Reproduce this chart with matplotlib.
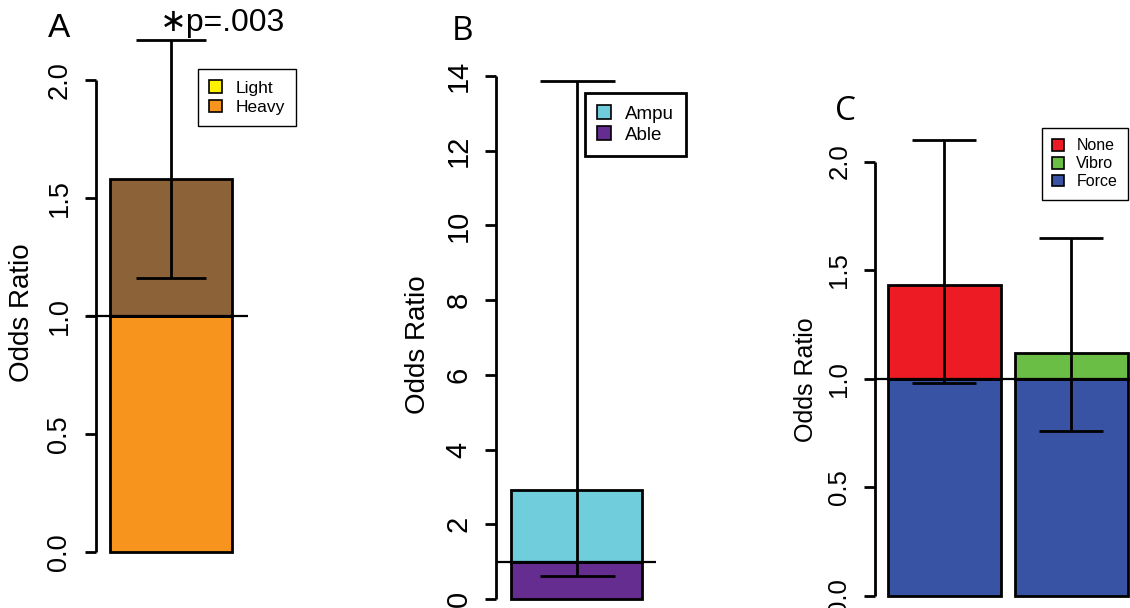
import matplotlib
matplotlib.use("Agg")
import matplotlib.pyplot as plt
from matplotlib.patches import Patch

plt.rcParams['font.family'] = ['Liberation Sans', 'DejaVu Sans']

# ---- data -------------------------------------------------------------
odds_a = [1.58]
lo_a = [1.16]
hi_a = [2.17]
legend_a = ["Light", "Heavy"]
colors_a = ["#FFF200", "#F7941D"]   # legend swatches
top_a = "#8C6239"                   # upper segment of the bar
base_a = "#F7941D"
ticks_a = [0.0, 0.5, 1.0, 1.5, 2.0]
ticklabels_a = ["0.0", "0.5", "1.0", "1.5", "2.0"]

odds_b = [2.92]
lo_b = [0.62]
hi_b = [13.87]
legend_b = ["Ampu", "Able"]
colors_b = ["#6FCDDC", "#662D91"]
ticks_b = [0, 2, 4, 6, 8, 10, 12, 14]
ticklabels_b = ["0", "2", "4", "6", "8", "10", "12", "14"]

odds_c = [1.43, 1.12]
lo_c = [0.98, 0.76]
hi_c = [2.10, 1.65]
legend_c = ["None", "Vibro", "Force"]
colors_c = ["#ED1C24", "#6ABD45", "#3953A4"]
ticks_c = [0.0, 0.5, 1.0, 1.5, 2.0]
ticklabels_c = ["0.0", "0.5", "1.0", "1.5", "2.0"]

baseline = 1.0
p_text = "\u2217p=.003"

# ---- figure -----------------------------------------------------------
W, H = 1130, 608
fig = plt.figure(figsize=(W / 100, H / 100), dpi=100)
LW = 2.0


def px_axes(left, right, top, bottom):
    return fig.add_axes([left / W, 1 - bottom / H, (right - left) / W, (bottom - top) / H])


def style_axes(ax, ticks, labels, fs):
    for s in ["top", "right", "bottom"]:
        ax.spines[s].set_visible(False)
    ax.spines["left"].set_linewidth(LW)
    ax.spines["left"].set_bounds(ticks[0], ticks[-1])
    ax.spines["left"].set_capstyle("butt")
    ax.set_xticks([])
    ax.set_yticks(ticks)
    ax.set_yticklabels(labels, rotation=90, va="center", fontsize=fs)
    ax.tick_params(axis="y", length=8, width=LW, pad=9)
    ax.patch.set_alpha(0)


def legend(ax, names, cols, fs, anchor_px, lw, spacing):
    handles = [Patch(facecolor=c, edgecolor="black", linewidth=1.2) for c in cols]
    lg = ax.legend(handles, names, loc="upper left",
                   bbox_to_anchor=(anchor_px[0] / W, 1 - anchor_px[1] / H),
                   bbox_transform=fig.transFigure, fontsize=fs, frameon=True,
                   fancybox=False, edgecolor="black", framealpha=1,
                   handlelength=0.75, handleheight=0.75, handletextpad=0.75,
                   labelspacing=spacing, borderpad=0.65, borderaxespad=0)
    lg.get_frame().set_linewidth(lw)


def bars(ax, centers, vals, lo, hi, top_cols, base_col, cap):
    ax.bar(centers, [baseline] * len(centers), width=1.0, color=base_col,
           edgecolor="black", linewidth=LW, zorder=2)
    ax.bar(centers, [v - baseline for v in vals], bottom=baseline, width=1.0,
           color=top_cols, edgecolor="black", linewidth=LW, zorder=2)
    yerr = [[v - l for v, l in zip(vals, lo)], [h - v for v, h in zip(vals, hi)]]
    ax.errorbar(centers, vals, yerr=yerr, fmt="none", ecolor="black",
                elinewidth=LW, capsize=cap, capthick=LW, zorder=4)


# Panel A
axA = px_axes(96, 300, 20, 575)
axA.set_xlim(0.2 - 14 / 122, 0.2 + 190 / 122)
axA.set_ylim(-23 / 236, 532 / 236)
bars(axA, [0.7], odds_a, lo_a, hi_a, [top_a], base_a, 25)
axA.hlines(baseline, 0.2 - 23 / 122, 0.2 + 138 / 122, color="black", lw=1.6,
           clip_on=False, zorder=5)
style_axes(axA, ticks_a, ticklabels_a, 19.5)
legend(axA, legend_a, colors_a, 12.5, (198, 69), 1.0, 0.22)
fig.text(22 / W, 1 - 313 / H, "Odds Ratio", rotation=90, ha="center", va="center", fontsize=20)
fig.text(160 / W, 1 - 31 / H, p_text, fontsize=23, ha="left", va="baseline")
fig.text(48 / W, 1 - 37 / H, "A", fontsize=24, ha="left", va="baseline")

# Panel B
axB = px_axes(496, 700, 20, 605)
axB.set_xlim(0.2 - 15 / 131, 0.2 + 189 / 131)
axB.set_ylim(-6 / 37.36, 579 / 37.36)
bars(axB, [0.7], odds_b, lo_b, hi_b, [colors_b[0]], colors_b[1], 27)
axB.hlines(baseline, 0.2 - 15 / 131, 0.2 + 145 / 131, color="black", lw=1.6,
           clip_on=False, zorder=5)
style_axes(axB, ticks_b, ticklabels_b, 21)
legend(axB, legend_b, colors_b, 13.5, (585, 93), 2.0, 0.2)
fig.text(418 / W, 1 - 345 / H, "Odds Ratio", rotation=90, ha="center", va="center", fontsize=20)
fig.text(452 / W, 1 - 40 / H, "B", fontsize=24, ha="left", va="baseline",
         family=["Open Sans"])

# Panel C
axC = px_axes(875, 1130, 20, 605)
axC.set_xlim(0.2 - 12.7 / 112.85, 0.2 + 242.3 / 112.85)
axC.set_ylim(-9 / 217.2, 576 / 217.2)
bars(axC, [0.7, 1.827], odds_c, lo_c, hi_c, colors_c[:2], colors_c[2], 23)
axC.axhline(baseline, color="black", lw=1.6, zorder=5)
style_axes(axC, ticks_c, ticklabels_c, 18.5)
legend(axC, legend_c, colors_c, 11.5, (1042, 128), 1.0, 0.18)
fig.text(806 / W, 1 - 380 / H, "Odds Ratio", rotation=90, ha="center", va="center", fontsize=18)
fig.text(835 / W, 1 - 120 / H, "C", fontsize=24, ha="left", va="baseline",
         family=["Open Sans"])

fig.savefig("out.png", dpi=100)
